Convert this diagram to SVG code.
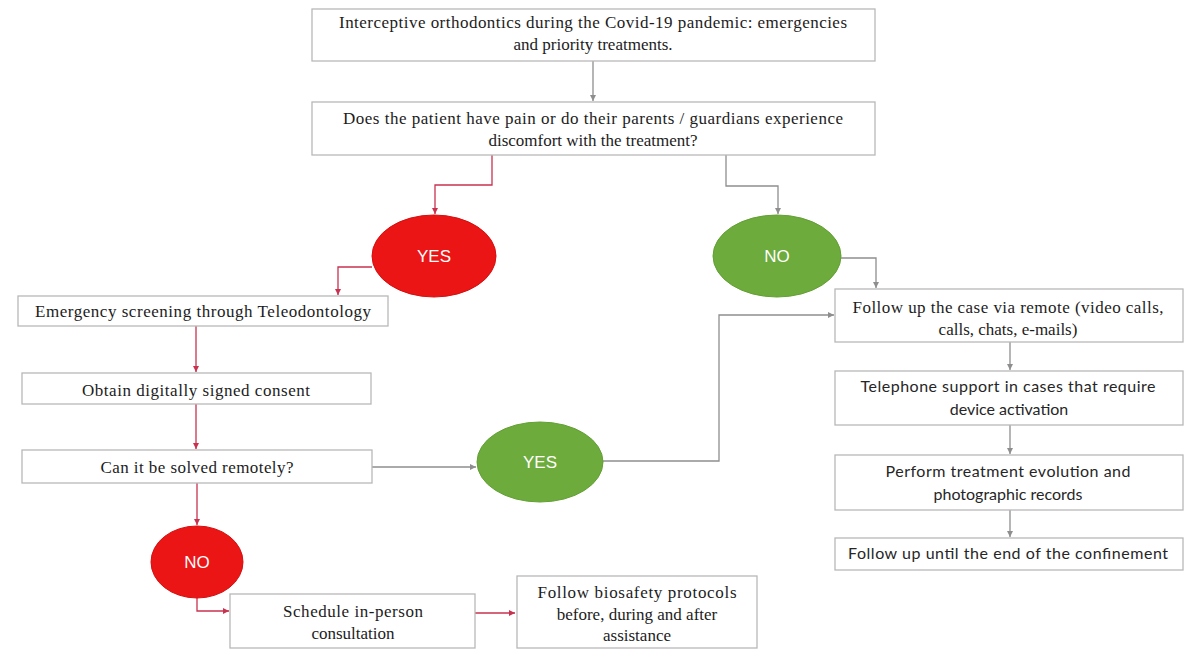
<svg xmlns="http://www.w3.org/2000/svg" width="1188" height="650" viewBox="0 0 1188 650">
<style>
.box{fill:#fff;stroke:#b8b8b8;stroke-width:1.3}
.t{font-family:"Liberation Serif","Times New Roman",serif;font-size:17px;fill:#1c1c1c;text-anchor:middle}
.s{font-family:Lato,"Liberation Sans",sans-serif;font-size:16px;fill:#262626;text-anchor:middle}
.lab{font-family:"Liberation Sans",Arial,sans-serif;font-size:17px;fill:#fff;text-anchor:middle}
.red{fill:#ec1515;stroke:#d50f0f;stroke-width:1}
.green{fill:#6cab3c;stroke:#63a034;stroke-width:1}
.cr{fill:none;stroke:#c9324f;stroke-width:1.3;marker-end:url(#ar)}
.cg{fill:none;stroke:#8e8e8e;stroke-width:1.3;marker-end:url(#ag)}
</style>
<defs>
<marker id="ar" markerUnits="userSpaceOnUse" markerWidth="7" markerHeight="7" refX="6" refY="3.5" orient="auto"><path d="M0,0.5 L6,3.5 L0,6.5 z" fill="#c9324f"/></marker>
<marker id="ag" markerUnits="userSpaceOnUse" markerWidth="7" markerHeight="7" refX="6" refY="3.5" orient="auto"><path d="M0,0.5 L6,3.5 L0,6.5 z" fill="#8e8e8e"/></marker>
</defs>
<rect width="1188" height="650" fill="#fff"/>
<g id="connectors">
<path class="cg" d="M593,61 V101"/>
<path class="cr" d="M492,155 V185 H435 V214"/>
<path class="cg" d="M726,155 V186 H778 V214"/>
<path class="cr" d="M372,267 H338 V295"/>
<path class="cg" d="M841,258 H876 V288"/>
<path class="cr" d="M196,326 V372"/>
<path class="cr" d="M196,404 V449"/>
<path class="cg" d="M372,467 H476"/>
<path class="cg" d="M603,461 H719 V315 H834"/>
<path class="cr" d="M197,483 V525"/>
<path class="cr" d="M197,597 V611 H229"/>
<path class="cr" d="M475,613 H515"/>
<path class="cg" d="M1010,342 V370"/>
<path class="cg" d="M1010,425 V454"/>
<path class="cg" d="M1010,510 V537"/>
</g>
<g id="n1"><rect class="box" x="312" y="9" width="563" height="52"/>
<text class="t" x="593" y="28" textLength="508" lengthAdjust="spacing">Interceptive orthodontics during the Covid-19 pandemic: emergencies</text>
<text class="t" x="593" y="50">and priority treatments.</text></g>
<g id="n2"><rect class="box" x="312" y="102" width="563" height="53"/>
<text class="t" x="593" y="124" textLength="500" lengthAdjust="spacing">Does the patient have pain or do their parents / guardians experience</text>
<text class="t" x="593" y="146">discomfort with the treatment?</text></g>
<g id="yes1"><ellipse class="red" cx="434" cy="256" rx="62" ry="41"/><text class="lab" x="434" y="262">YES</text></g>
<g id="no1"><ellipse class="green" cx="777" cy="256" rx="64" ry="41"/><text class="lab" x="777" y="262">NO</text></g>
<g id="n3"><rect class="box" x="18" y="296" width="370" height="30"/>
<text class="t" x="203" y="317" textLength="336" lengthAdjust="spacing">Emergency screening through Teleodontology</text></g>
<g id="n4"><rect class="box" x="22" y="373" width="349" height="31"/>
<text class="t" x="196" y="396" textLength="228" lengthAdjust="spacing">Obtain digitally  signed consent</text></g>
<g id="n5"><rect class="box" x="22" y="450" width="350" height="33"/>
<text class="t" x="197" y="473" textLength="193" lengthAdjust="spacing">Can it be solved remotely?</text></g>
<g id="yes2"><ellipse class="green" cx="540" cy="462" rx="63" ry="40"/><text class="lab" x="540" y="468">YES</text></g>
<g id="no2"><ellipse class="red" cx="197" cy="562" rx="46" ry="36"/><text class="lab" x="197" y="568">NO</text></g>
<g id="n6"><rect class="box" x="230" y="594" width="245" height="54"/>
<text class="t" x="353" y="617" textLength="140" lengthAdjust="spacing">Schedule in-person</text>
<text class="t" x="353" y="639">consultation</text></g>
<g id="n7"><rect class="box" x="517" y="576" width="240" height="72"/>
<text class="t" x="637" y="598" textLength="199" lengthAdjust="spacing">Follow biosafety protocols</text>
<text class="t" x="637" y="620">before, during and after</text>
<text class="t" x="637" y="641">assistance</text></g>
<g id="n8"><rect class="box" x="835" y="289" width="348" height="53"/>
<text class="t" x="1008" y="313" textLength="311" lengthAdjust="spacing">Follow up the case via remote (video calls,</text>
<text class="t" x="1008" y="335">calls, chats, e-mails)</text></g>
<g id="n9"><rect class="box" x="835" y="371" width="348" height="54"/>
<text class="s" x="1008" y="392" textLength="295" lengthAdjust="spacing">Telephone support in cases that require</text>
<text class="s" x="1009" y="415">device activation</text></g>
<g id="n10"><rect class="box" x="835" y="455" width="348" height="55"/>
<text class="s" x="1008" y="477" textLength="245" lengthAdjust="spacing">Perform treatment evolution and</text>
<text class="s" x="1008" y="500">photographic records</text></g>
<g id="n11"><rect class="box" x="835" y="538" width="348" height="32"/>
<text class="s" x="1008" y="559" textLength="320" lengthAdjust="spacing">Follow up until the end of the confinement</text></g>
</svg>
